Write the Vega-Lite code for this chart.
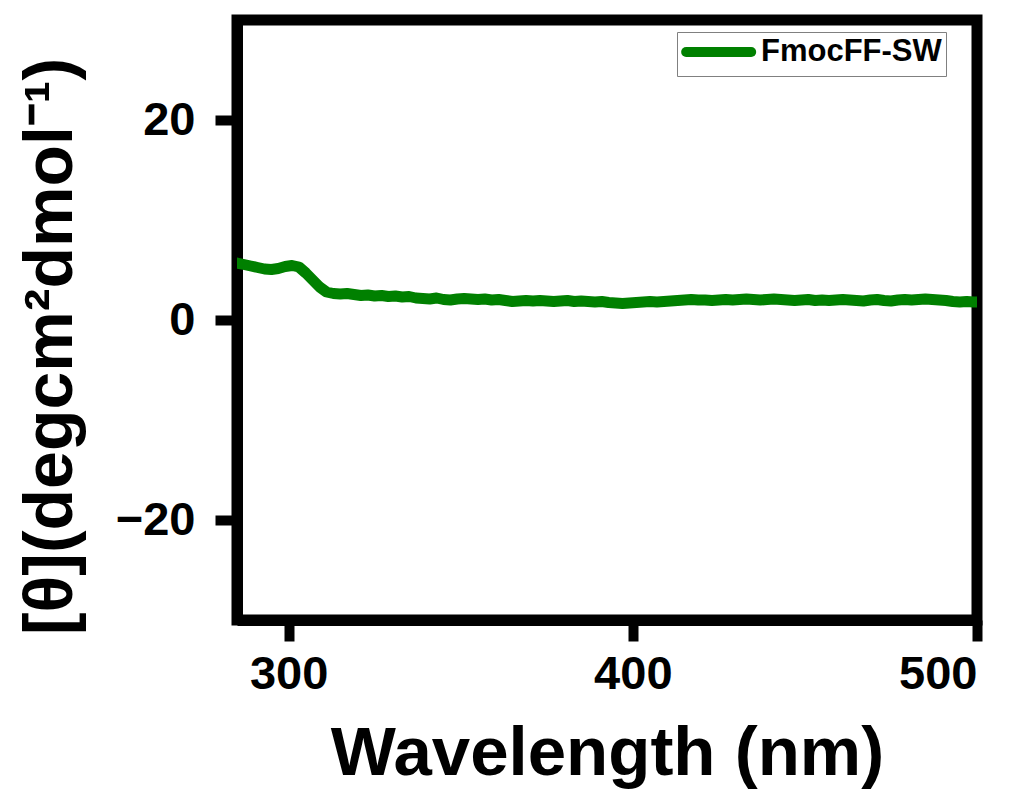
{
  "$schema": "https://vega.github.io/schema/vega-lite/v6.json",
  "autosize": {"type": "none"},
  "width": 740,
  "height": 600,
  "padding": {"left": 237, "top": 20, "right": 44, "bottom": 172},
  "background": "white",
  "config": {
    "font": "Liberation Sans",
    "view": {"stroke": "black", "strokeWidth": 11},
    "axis": {
      "grid": false,
      "domainColor": "black",
      "domainWidth": 11,
      "tickColor": "black",
      "tickWidth": 10,
      "labelFont": "Liberation Sans",
      "labelFontWeight": "bold",
      "labelFontSize": 47,
      "labelColor": "black",
      "titleFont": "Liberation Sans",
      "titleFontWeight": "bold",
      "titleColor": "black"
    }
  },
  "data": {
    "values": [
      {"wavelength": 285, "theta": 5.7, "series": "FmocFF-SW"},
      {"wavelength": 287, "theta": 5.55, "series": "FmocFF-SW"},
      {"wavelength": 289, "theta": 5.4, "series": "FmocFF-SW"},
      {"wavelength": 291, "theta": 5.25, "series": "FmocFF-SW"},
      {"wavelength": 293, "theta": 5.1, "series": "FmocFF-SW"},
      {"wavelength": 295, "theta": 5.05, "series": "FmocFF-SW"},
      {"wavelength": 297, "theta": 5.15, "series": "FmocFF-SW"},
      {"wavelength": 299, "theta": 5.35, "series": "FmocFF-SW"},
      {"wavelength": 301, "theta": 5.45, "series": "FmocFF-SW"},
      {"wavelength": 303, "theta": 5.3, "series": "FmocFF-SW"},
      {"wavelength": 305, "theta": 4.7, "series": "FmocFF-SW"},
      {"wavelength": 307, "theta": 4.0, "series": "FmocFF-SW"},
      {"wavelength": 309, "theta": 3.3, "series": "FmocFF-SW"},
      {"wavelength": 311, "theta": 2.8, "series": "FmocFF-SW"},
      {"wavelength": 313, "theta": 2.65, "series": "FmocFF-SW"},
      {"wavelength": 315, "theta": 2.6, "series": "FmocFF-SW"},
      {"wavelength": 317, "theta": 2.65, "series": "FmocFF-SW"},
      {"wavelength": 319, "theta": 2.55, "series": "FmocFF-SW"},
      {"wavelength": 321, "theta": 2.45, "series": "FmocFF-SW"},
      {"wavelength": 323, "theta": 2.5, "series": "FmocFF-SW"},
      {"wavelength": 325, "theta": 2.4, "series": "FmocFF-SW"},
      {"wavelength": 327, "theta": 2.45, "series": "FmocFF-SW"},
      {"wavelength": 329, "theta": 2.35, "series": "FmocFF-SW"},
      {"wavelength": 331, "theta": 2.4, "series": "FmocFF-SW"},
      {"wavelength": 333, "theta": 2.3, "series": "FmocFF-SW"},
      {"wavelength": 335, "theta": 2.35, "series": "FmocFF-SW"},
      {"wavelength": 337, "theta": 2.2, "series": "FmocFF-SW"},
      {"wavelength": 339, "theta": 2.15, "series": "FmocFF-SW"},
      {"wavelength": 341, "theta": 2.1, "series": "FmocFF-SW"},
      {"wavelength": 343, "theta": 2.2, "series": "FmocFF-SW"},
      {"wavelength": 345, "theta": 2.05, "series": "FmocFF-SW"},
      {"wavelength": 347, "theta": 2.0, "series": "FmocFF-SW"},
      {"wavelength": 349, "theta": 2.1, "series": "FmocFF-SW"},
      {"wavelength": 351, "theta": 2.15, "series": "FmocFF-SW"},
      {"wavelength": 353, "theta": 2.1, "series": "FmocFF-SW"},
      {"wavelength": 355, "theta": 2.05, "series": "FmocFF-SW"},
      {"wavelength": 357, "theta": 2.1, "series": "FmocFF-SW"},
      {"wavelength": 359, "theta": 2.0, "series": "FmocFF-SW"},
      {"wavelength": 361, "theta": 2.05, "series": "FmocFF-SW"},
      {"wavelength": 363, "theta": 1.95, "series": "FmocFF-SW"},
      {"wavelength": 365, "theta": 1.85, "series": "FmocFF-SW"},
      {"wavelength": 367, "theta": 1.9, "series": "FmocFF-SW"},
      {"wavelength": 369, "theta": 1.95, "series": "FmocFF-SW"},
      {"wavelength": 371, "theta": 1.9, "series": "FmocFF-SW"},
      {"wavelength": 373, "theta": 1.95, "series": "FmocFF-SW"},
      {"wavelength": 375, "theta": 1.9, "series": "FmocFF-SW"},
      {"wavelength": 377, "theta": 1.85, "series": "FmocFF-SW"},
      {"wavelength": 379, "theta": 1.9, "series": "FmocFF-SW"},
      {"wavelength": 381, "theta": 1.95, "series": "FmocFF-SW"},
      {"wavelength": 383, "theta": 1.85, "series": "FmocFF-SW"},
      {"wavelength": 385, "theta": 1.9, "series": "FmocFF-SW"},
      {"wavelength": 387, "theta": 1.85, "series": "FmocFF-SW"},
      {"wavelength": 389, "theta": 1.8, "series": "FmocFF-SW"},
      {"wavelength": 391, "theta": 1.85, "series": "FmocFF-SW"},
      {"wavelength": 393, "theta": 1.75, "series": "FmocFF-SW"},
      {"wavelength": 395, "theta": 1.7, "series": "FmocFF-SW"},
      {"wavelength": 397, "theta": 1.65, "series": "FmocFF-SW"},
      {"wavelength": 399, "theta": 1.7, "series": "FmocFF-SW"},
      {"wavelength": 401, "theta": 1.75, "series": "FmocFF-SW"},
      {"wavelength": 403, "theta": 1.8, "series": "FmocFF-SW"},
      {"wavelength": 405, "theta": 1.85, "series": "FmocFF-SW"},
      {"wavelength": 407, "theta": 1.8, "series": "FmocFF-SW"},
      {"wavelength": 409, "theta": 1.85, "series": "FmocFF-SW"},
      {"wavelength": 411, "theta": 1.9, "series": "FmocFF-SW"},
      {"wavelength": 413, "theta": 1.95, "series": "FmocFF-SW"},
      {"wavelength": 415, "theta": 2.0, "series": "FmocFF-SW"},
      {"wavelength": 417, "theta": 2.05, "series": "FmocFF-SW"},
      {"wavelength": 419, "theta": 2.0, "series": "FmocFF-SW"},
      {"wavelength": 421, "theta": 2.0, "series": "FmocFF-SW"},
      {"wavelength": 423, "theta": 1.95, "series": "FmocFF-SW"},
      {"wavelength": 425, "theta": 2.0, "series": "FmocFF-SW"},
      {"wavelength": 427, "theta": 2.05, "series": "FmocFF-SW"},
      {"wavelength": 429, "theta": 2.0, "series": "FmocFF-SW"},
      {"wavelength": 431, "theta": 2.05, "series": "FmocFF-SW"},
      {"wavelength": 433, "theta": 2.1, "series": "FmocFF-SW"},
      {"wavelength": 435, "theta": 2.05, "series": "FmocFF-SW"},
      {"wavelength": 437, "theta": 2.0, "series": "FmocFF-SW"},
      {"wavelength": 439, "theta": 2.05, "series": "FmocFF-SW"},
      {"wavelength": 441, "theta": 2.1, "series": "FmocFF-SW"},
      {"wavelength": 443, "theta": 2.05, "series": "FmocFF-SW"},
      {"wavelength": 445, "theta": 2.0, "series": "FmocFF-SW"},
      {"wavelength": 447, "theta": 1.95, "series": "FmocFF-SW"},
      {"wavelength": 449, "theta": 2.0, "series": "FmocFF-SW"},
      {"wavelength": 451, "theta": 2.05, "series": "FmocFF-SW"},
      {"wavelength": 453, "theta": 1.95, "series": "FmocFF-SW"},
      {"wavelength": 455, "theta": 2.0, "series": "FmocFF-SW"},
      {"wavelength": 457, "theta": 1.95, "series": "FmocFF-SW"},
      {"wavelength": 459, "theta": 2.0, "series": "FmocFF-SW"},
      {"wavelength": 461, "theta": 2.05, "series": "FmocFF-SW"},
      {"wavelength": 463, "theta": 2.0, "series": "FmocFF-SW"},
      {"wavelength": 465, "theta": 1.95, "series": "FmocFF-SW"},
      {"wavelength": 467, "theta": 1.9, "series": "FmocFF-SW"},
      {"wavelength": 469, "theta": 2.0, "series": "FmocFF-SW"},
      {"wavelength": 471, "theta": 2.05, "series": "FmocFF-SW"},
      {"wavelength": 473, "theta": 1.95, "series": "FmocFF-SW"},
      {"wavelength": 475, "theta": 1.9, "series": "FmocFF-SW"},
      {"wavelength": 477, "theta": 2.0, "series": "FmocFF-SW"},
      {"wavelength": 479, "theta": 2.05, "series": "FmocFF-SW"},
      {"wavelength": 481, "theta": 2.0, "series": "FmocFF-SW"},
      {"wavelength": 483, "theta": 2.05, "series": "FmocFF-SW"},
      {"wavelength": 485, "theta": 2.1, "series": "FmocFF-SW"},
      {"wavelength": 487, "theta": 2.05, "series": "FmocFF-SW"},
      {"wavelength": 489, "theta": 2.0, "series": "FmocFF-SW"},
      {"wavelength": 491, "theta": 1.95, "series": "FmocFF-SW"},
      {"wavelength": 493, "theta": 1.85, "series": "FmocFF-SW"},
      {"wavelength": 495, "theta": 1.8, "series": "FmocFF-SW"},
      {"wavelength": 497, "theta": 1.85, "series": "FmocFF-SW"},
      {"wavelength": 499, "theta": 1.8, "series": "FmocFF-SW"},
      {"wavelength": 500, "theta": 1.8, "series": "FmocFF-SW"}
    ]
  },
  "mark": {"type": "line", "strokeWidth": 11, "strokeCap": "round", "strokeJoin": "round", "clip": true},
  "encoding": {
    "x": {
      "field": "wavelength",
      "type": "quantitative",
      "scale": {"domain": [285, 500], "nice": false, "zero": false},
      "axis": {
        "values": [300, 400, 500],
        "tickSize": 21,
        "labelPadding": 10,
        "title": "Wavelength (nm)",
        "titleFontSize": 69,
        "titlePadding": 22
      }
    },
    "y": {
      "field": "theta",
      "type": "quantitative",
      "scale": {"domain": [-30, 30], "nice": false, "zero": false},
      "axis": {
        "values": [-20, 0, 20],
        "tickSize": 22,
        "labelPadding": 20,
        "title": "[θ](degcm²dmol⁻¹)",
        "titleFontSize": 68,
        "titlePadding": 30,
        "titleY": 326
      }
    },
    "color": {
      "field": "series",
      "type": "nominal",
      "scale": {"domain": ["FmocFF-SW"], "range": ["#008000"]},
      "legend": {
        "orient": "none",
        "legendX": 440,
        "legendY": 12,
        "title": null,
        "symbolType": "M-1,0H5",
        "symbolSize": 470,
        "symbolStrokeWidth": 10,
        "labelFont": "Liberation Sans",
        "labelFontWeight": "bold",
        "labelFontSize": 31,
        "labelColor": "black",
        "labelLimit": 600,
        "labelOffset": 48,
        "padding": 4,
        "strokeColor": "#808080",
        "fillColor": "white",
        "encode": {"symbols": {"update": {"strokeCap": {"value": "round"}}}}
      }
    }
  }
}
